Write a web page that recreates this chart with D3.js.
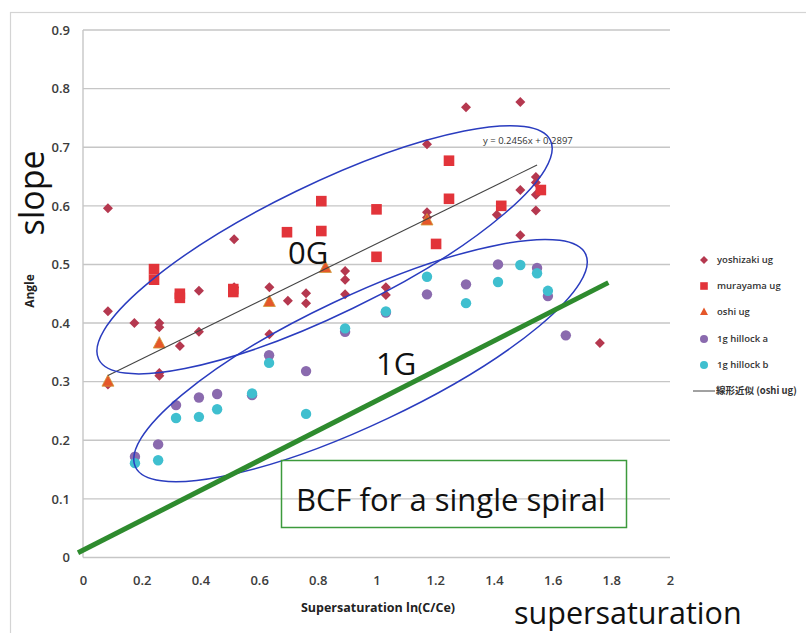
<!DOCTYPE html>
<html>
<head>
<meta charset="utf-8">
<script src="https://cdn.jsdelivr.net/npm/d3@7"></script>
<style>
  html, body { margin: 0; padding: 0; background: #ffffff; }
  svg { display: block; font-family: "Open Sans", "Noto Sans", sans-serif; }
</style>
</head>
<body>
<svg id="chart" width="806" height="633"></svg>
<script>
// ---------------- DATA ----------------
const xTickValues = [0, 0.2, 0.4, 0.6, 0.8, 1, 1.2, 1.4, 1.6, 1.8, 2];
const xTickLabels = ["0", "0.2", "0.4", "0.6", "0.8", "1", "1.2", "1.4", "1.6", "1.8", "2"];
const yTickValues = [0, 0.1, 0.2, 0.3, 0.4, 0.5, 0.6, 0.7, 0.8, 0.9];
const yTickLabels = ["0", "0.1", "0.2", "0.3", "0.4", "0.5", "0.6", "0.7", "0.8", "0.9"];

const seriesNames = ["yoshizaki ug", "murayama ug", "oshi ug", "1g hillock a", "1g hillock b"];
const trendName = "線形近似 (oshi ug)";

const yoshizaki = [
  [0.085, 0.596], [0.085, 0.42], [0.085, 0.295], [0.175, 0.40], [0.26, 0.40],
  [0.26, 0.393], [0.26, 0.315], [0.26, 0.31], [0.33, 0.361], [0.395, 0.385],
  [0.395, 0.455], [0.515, 0.543], [0.515, 0.461], [0.635, 0.461], [0.635, 0.381],
  [0.698, 0.438], [0.76, 0.451], [0.76, 0.434], [0.893, 0.489], [0.893, 0.474],
  [0.893, 0.449], [1.032, 0.461], [1.032, 0.448], [1.172, 0.705], [1.172, 0.589],
  [1.172, 0.58], [1.305, 0.768], [1.41, 0.585], [1.49, 0.777], [1.49, 0.627],
  [1.49, 0.55], [1.543, 0.649], [1.543, 0.64], [1.543, 0.619], [1.543, 0.592],
  [1.761, 0.366]
];
const murayama = [
  [0.242, 0.492], [0.242, 0.474], [0.33, 0.45], [0.33, 0.443], [0.512, 0.458],
  [0.512, 0.453], [0.695, 0.555], [0.812, 0.608], [0.812, 0.557], [1.0, 0.594],
  [1.0, 0.513], [1.203, 0.535], [1.247, 0.677], [1.247, 0.612], [1.425, 0.6],
  [1.56, 0.627]
];
const oshi = [
  [0.085, 0.30], [0.26, 0.365], [0.635, 0.436], [0.826, 0.494], [1.172, 0.575]
];
const hillockA = [
  [0.177, 0.172], [0.256, 0.193], [0.317, 0.26], [0.395, 0.273], [0.457, 0.279],
  [0.576, 0.277], [0.634, 0.345], [0.76, 0.318], [0.893, 0.385], [1.032, 0.418],
  [1.172, 0.449], [1.305, 0.466], [1.414, 0.5], [1.547, 0.494], [1.584, 0.446],
  [1.645, 0.379]
];
const hillockB = [
  [0.177, 0.161], [0.256, 0.166], [0.317, 0.238], [0.395, 0.24], [0.457, 0.253],
  [0.576, 0.28], [0.634, 0.332], [0.76, 0.245], [0.893, 0.391], [1.032, 0.42],
  [1.172, 0.479], [1.305, 0.434], [1.414, 0.47], [1.49, 0.499], [1.547, 0.485],
  [1.584, 0.455]
];

// linear trendline of oshi ug (equation shown on chart)
const trendSlope = 0.2456;
const trendIntercept = 0.2897;
const trendRange = [0.085, 1.547];
const trendLabel = "y = 0.2456x + 0.2897";

// BCF single-spiral line (end points)
const bcfLine = [[-0.017, 0.008], [1.79, 0.469]];

// hand-drawn ellipse annotations: centres in data units
const ellipseCentres = [[0.823, 0.525], [0.9455, 0.336]];
const ellipseLabels = ["0G", "1G"];

// ---------------- LAYOUT / STYLE ----------------
const svg = d3.select("#chart");
const plotLeft = 83, plotRight = 670, plotTop = 30, plotBottom = 557.5;

const x = d3.scaleLinear().domain([0, 2]).range([plotLeft, plotRight]);
const y = d3.scaleLinear().domain([0, 0.9]).range([plotBottom, plotTop]);

const gridColor = "#c6c6c6";
const tickColor = "#3c3c3c";

svg.append("rect").attr("width", 806).attr("height", 633).attr("fill", "#fff");
// outer chart frame
svg.append("rect")
  .attr("x", 10.5).attr("y", 12.5).attr("width", 820).attr("height", 660)
  .attr("fill", "none").attr("stroke", "#d4d4d4").attr("stroke-width", 1.2);

// gridlines
svg.append("g").selectAll("line").data(yTickValues).join("line")
  .attr("x1", plotLeft).attr("x2", plotRight)
  .attr("y1", d => y(d)).attr("y2", d => y(d))
  .attr("stroke", gridColor).attr("stroke-width", 1.4);

// y axis line
svg.append("line")
  .attr("x1", plotLeft).attr("x2", plotLeft)
  .attr("y1", plotTop).attr("y2", plotBottom)
  .attr("stroke", gridColor).attr("stroke-width", 1.4);

// axes (labels only, using d3 axes)
const yAxis = d3.axisLeft(y).tickValues(yTickValues)
  .tickFormat((d, i) => yTickLabels[i]).tickSize(0).tickPadding(13);
const gy = svg.append("g").attr("transform", `translate(${plotLeft},0)`).call(yAxis);
gy.select(".domain").remove();
gy.selectAll("text").attr("font-size", 13).attr("fill", tickColor)
  .attr("font-family", "'Open Sans', sans-serif").attr("font-weight", 600);

const xAxis = d3.axisBottom(x).tickValues(xTickValues)
  .tickFormat((d, i) => xTickLabels[i]).tickSize(0).tickPadding(18);
const gx = svg.append("g").attr("transform", `translate(0,${plotBottom})`).call(xAxis);
gx.select(".domain").remove();
gx.selectAll("text").attr("font-size", 13).attr("fill", tickColor)
  .attr("font-family", "'Open Sans', sans-serif").attr("font-weight", 600);

// axis titles
svg.append("text")
  .attr("transform", "translate(34,291) rotate(-90)")
  .attr("text-anchor", "middle")
  .attr("font-size", 12).attr("font-weight", 700).attr("fill", "#222")
  .text("Angle");
svg.append("text")
  .attr("x", 378).attr("y", 612)
  .attr("text-anchor", "middle")
  .attr("font-size", 12.5).attr("font-weight", 700).attr("fill", "#222")
  .text("Supersaturation  ln(C/Ce)");

// marker shapes
const colors = ["#b5384f", "#e2343a", "#e5572a", "#8a6aae", "#3fbfcf"];
function diamondPath(cx, cy, r) {
  return `M${cx},${cy - r}L${cx + r},${cy}L${cx},${cy + r}L${cx - r},${cy}Z`;
}
function squarePath(cx, cy, r) {
  return `M${cx - r},${cy - r}h${2 * r}v${2 * r}h${-2 * r}Z`;
}
function trianglePath(cx, cy, r) {
  return `M${cx},${cy - r * 1.15}L${cx + r},${cy + r * 0.75}L${cx - r},${cy + r * 0.75}Z`;
}
const shapes = [
  (cx, cy) => diamondPath(cx, cy, 5),
  (cx, cy) => squarePath(cx, cy, 5.3),
  (cx, cy) => trianglePath(cx, cy, 6),
  null, null
];

const allSeries = [yoshizaki, murayama, oshi, hillockA, hillockB];
const gPts = svg.append("g");
allSeries.forEach((ser, si) => {
  const g = gPts.append("g");
  if (si >= 3) {
    g.selectAll("circle").data(ser).join("circle")
      .attr("cx", d => x(d[0])).attr("cy", d => y(d[1])).attr("r", 5.2)
      .attr("fill", colors[si]);
  } else {
    g.selectAll("path").data(ser).join("path")
      .attr("d", d => shapes[si](x(d[0]), y(d[1])))
      .attr("fill", colors[si])
      .attr("stroke", si === 2 ? "#d09a3a" : "none")
      .attr("stroke-width", si === 2 ? 0.8 : 0);
  }
});

// trendline
svg.append("line")
  .attr("x1", x(trendRange[0])).attr("y1", y(trendSlope * trendRange[0] + trendIntercept))
  .attr("x2", x(trendRange[1])).attr("y2", y(trendSlope * trendRange[1] + trendIntercept))
  .attr("stroke", "#444").attr("stroke-width", 1.1);
svg.append("text")
  .attr("x", 483).attr("y", 144)
  .attr("font-size", 9.5).attr("fill", "#333")
  .text(trendLabel);

// ellipses
const ellipseGeom = [
  { rx: 251, ry: 65, angle: -25.85 },
  { rx: 249, ry: 64, angle: -25.3 }
];
ellipseCentres.forEach((c, i) => {
  const eg = ellipseGeom[i];
  svg.append("ellipse")
    .attr("transform", `translate(${x(c[0])},${y(c[1])}) rotate(${eg.angle})`)
    .attr("rx", eg.rx).attr("ry", eg.ry)
    .attr("fill", "none").attr("stroke", "#2a3cbf").attr("stroke-width", 1.5);
});

// BCF green line
svg.append("line")
  .attr("x1", x(bcfLine[0][0])).attr("y1", y(bcfLine[0][1]))
  .attr("x2", x(bcfLine[1][0])).attr("y2", y(bcfLine[1][1]))
  .attr("stroke", "#2e8b2e").attr("stroke-width", 5).attr("stroke-linecap", "butt");

// green box with text
svg.append("rect")
  .attr("x", 281.5).attr("y", 460.5).attr("width", 345).attr("height", 67)
  .attr("fill", "none").attr("stroke", "#3c9a3c").attr("stroke-width", 1.5);
svg.append("text")
  .attr("x", 296).attr("y", 511)
  .attr("font-size", 31).attr("fill", "#111")
  .text("BCF for a single spiral");

// ellipse labels
svg.append("text").attr("x", 288).attr("y", 264)
  .attr("font-size", 31).attr("fill", "#111").text(ellipseLabels[0]);
svg.append("text").attr("x", 376).attr("y", 375)
  .attr("font-size", 31).attr("fill", "#111").text(ellipseLabels[1]);

// big annotations
svg.append("text")
  .attr("transform", "translate(44,193) rotate(-90)")
  .attr("text-anchor", "middle")
  .attr("font-size", 34).attr("fill", "#111")
  .text("slope");
svg.append("text")
  .attr("x", 514).attr("y", 624)
  .attr("font-size", 30.5).attr("fill", "#111")
  .text("supersaturation");

// legend
const legendY = [260, 286, 312, 339, 365, 391];
const legend = svg.append("g");
seriesNames.forEach((name, i) => {
  const ly = legendY[i];
  if (i >= 3) {
    legend.append("circle").attr("cx", 704).attr("cy", ly).attr("r", 4).attr("fill", colors[i]);
  } else {
    const fn = [
      (cx, cy) => diamondPath(cx, cy, 4),
      (cx, cy) => squarePath(cx, cy, 3.8),
      (cx, cy) => trianglePath(cx, cy, 4)
    ][i];
    legend.append("path").attr("d", fn(704, ly)).attr("fill", colors[i]);
  }
  legend.append("text").attr("x", 717).attr("y", ly).attr("dy", "0.35em")
    .attr("font-size", 9.5).attr("font-weight", 600).attr("fill", "#333").text(name);
});
legend.append("line")
  .attr("x1", 693).attr("x2", 715).attr("y1", legendY[5]).attr("y2", legendY[5])
  .attr("stroke", "#444").attr("stroke-width", 1);
legend.append("text").attr("x", 716).attr("y", legendY[5]).attr("dy", "0.35em")
  .attr("font-size", 9.5).attr("font-weight", 600).attr("fill", "#333")
  .attr("font-family", "'Noto Sans CJK JP', 'Open Sans', sans-serif")
  .text(trendName);
</script>
</body>
</html>
